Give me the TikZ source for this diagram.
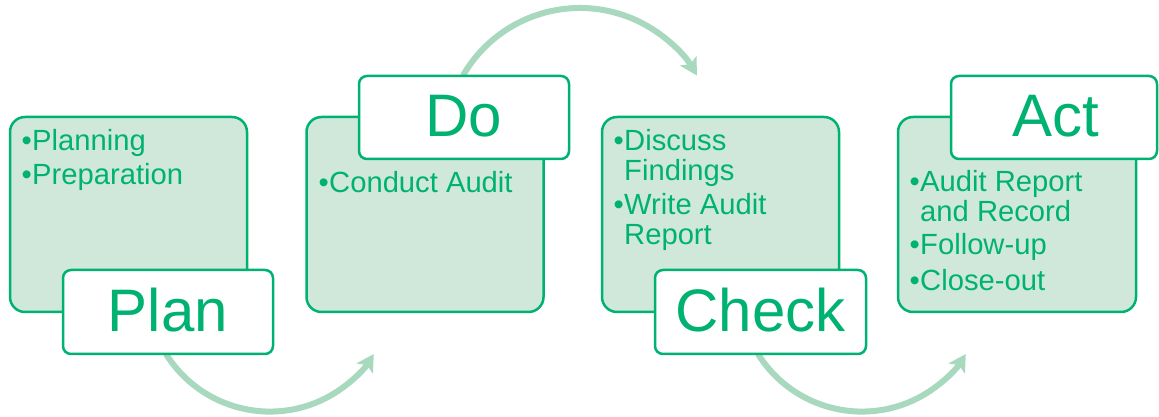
\documentclass[tikz,border=0pt]{standalone}
\usepackage{fontspec}
\setmainfont{Liberation Sans}
\usetikzlibrary{arrows.meta}
\definecolor{pdgreen}{RGB}{0,178,114}
\definecolor{pdfill}{RGB}{208,232,218}
\definecolor{pdarrow}{RGB}{168,216,190}
\tikzset{
  bodybox/.style={draw=pdgreen, fill=pdfill, line width=2.5pt, rounded corners=15pt,
    minimum width=237pt, minimum height=195pt, inner sep=0pt},
  labelbox/.style={draw=pdgreen, fill=white, line width=2.5pt, rounded corners=8pt,
    minimum height=84pt, inner sep=0pt},
  labeltext/.style={text=pdgreen, font=\fontsize{60}{60}\selectfont, inner sep=0pt, anchor=base},
  bodytext/.style={text=pdgreen, font=\fontsize{29.2}{30}\selectfont, inner sep=0pt, anchor=base west},
  bullettext/.style={text=pdgreen, font=\fontsize{29.2}{30}\selectfont, inner sep=0pt, anchor=base east},
  cyclearrow/.style={draw=pdarrow, line width=6pt, -{Stealth[length=17pt,width=19pt,inset=4pt]}}
}
\begin{document}
\begin{tikzpicture}[x=1pt,y=1pt]
\useasboundingbox (0,0) rectangle (1159,417);
% arrows (behind boxes)
\coordinate (a1s) at (166,63);
\coordinate (a2s) at (463,341.5);
\coordinate (a3s) at (758,63);
\draw[cyclearrow] (a1s) arc[start angle=212, end angle=328, radius=122.5pt];
\draw[cyclearrow] (a2s) arc[start angle=150, end angle=30, radius=135pt];
\draw[cyclearrow] (a3s) arc[start angle=212, end angle=328, radius=122.5pt];
% bodies
\node[bodybox] (planbody) at (128.5,202.5) {};
\node[bodybox] (dobody) at (425,202.5) {};
\node[bodybox] (checkbody) at (720.5,202.5) {};
\node[bodybox, minimum width=238pt] (actbody) at (1017,202.5) {};
% labels
\node[labelbox, minimum width=210pt] (planlbl) at (168,105) {};
\node[labelbox, minimum width=210pt, minimum height=83pt] (dolbl) at (464,299.5) {};
\node[labelbox, minimum width=211pt] (checklbl) at (760.5,105) {};
\node[labelbox, minimum width=206pt, minimum height=83pt] (actlbl) at (1054,299.5) {};
\node[labeltext] (plant) at (168,85) {Plan};
\node[labeltext] (dot) at (464,280) {Do};
\node[labeltext] (checkt) at (760.5,85) {Check};
\node[labeltext] (actt) at (1056,280) {Act};
% Plan items
\node[bullettext] (pb1) at (32,266) {•};
\node[bodytext] (p1) at (32,266) {Planning};
\node[bullettext] (pb2) at (32,232) {•};
\node[bodytext] (p2) at (32,232) {Preparation};
% Do items
\node[bullettext] (db1) at (329,224) {•};
\node[bodytext] (d1) at (329,224) {Conduct Audit};
% Check items
\node[bullettext] (cb1) at (624,266) {•};
\node[bodytext] (c1) at (624,266) {Discuss};
\node[bodytext] (c1b) at (624,236) {Findings};
\node[bullettext] (cb2) at (624,202) {•};
\node[bodytext] (c2) at (624,202) {Write Audit};
\node[bodytext] (c2b) at (624,172) {Report};
% Act items
\node[bullettext] (ab1) at (920,225) {•};
\node[bodytext] (a1) at (920,225) {Audit Report};
\node[bodytext] (a1b) at (920,195) {and Record};
\node[bullettext] (ab2) at (920,162) {•};
\node[bodytext] (a2) at (920,162) {Follow-up};
\node[bullettext] (ab3) at (920,126) {•};
\node[bodytext] (a3) at (920,126) {Close-out};
\end{tikzpicture}
\end{document}
